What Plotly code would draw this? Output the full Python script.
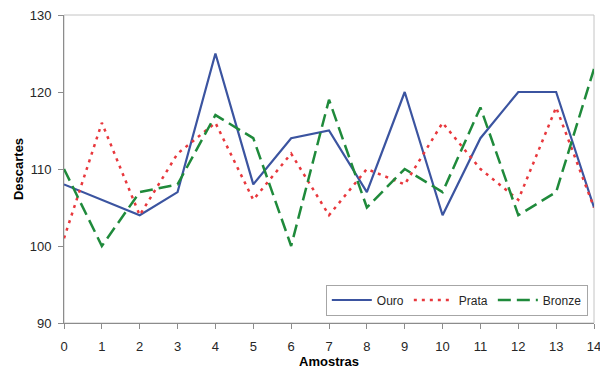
import plotly.graph_objects as go

# Sample index (Amostras) and discard counts per medal class
amostras = list(range(15))
ouro = [108, 106, 104, 107, 125, 108, 114, 115, 107, 120, 104, 114, 120, 120, 105]
prata = [101, 116, 104, 112, 116, 106, 112, 104, 110, 108, 116, 110, 106, 118, 105]
bronze = [110, 100, 107, 108, 117, 114, 100, 119, 105, 110, 107, 118, 104, 107, 123]

x_ticks = list(range(15))
y_ticks = [90, 100, 110, 120, 130]

FONT = "Liberation Sans, Arial, sans-serif"
AXIS_GRAY = "#8c8c8c"
TEXT = "#262626"

fig = go.Figure()
fig.add_trace(go.Scatter(x=amostras, y=ouro, name="Ouro", mode="lines",
                         line=dict(color="#3b54a0", width=2.2)))
fig.add_trace(go.Scatter(x=amostras, y=prata, name="Prata", mode="lines",
                         line=dict(color="#e8383d", width=2.5, dash="3px,5px")))
fig.add_trace(go.Scatter(x=amostras, y=bronze, name="Bronze", mode="lines",
                         line=dict(color="#1f8a3b", width=2.5, dash="13px,6px")))

# light frame around the plotting area
fig.add_shape(type="rect", xref="x domain", yref="y domain", x0=0, x1=1, y0=0, y1=1,
              line=dict(color="#c4c4c4", width=1), layer="below")

fig.update_layout(
    width=600, height=369,
    margin=dict(l=64, r=6, t=15, b=46, autoexpand=False),
    paper_bgcolor="white", plot_bgcolor="white",
    font=dict(family=FONT, size=13, color=TEXT),
    showlegend=True,
    legend=dict(orientation="h", x=0.494, y=0.125, xanchor="left", yanchor="top",
                bgcolor="white", bordercolor="#a6a6a6", borderwidth=1,
                font=dict(family=FONT, size=12, color=TEXT),
                itemwidth=40, tracegroupgap=0),
    xaxis=dict(range=[0, 14], tickvals=x_ticks, ticktext=[str(v) for v in x_ticks],
               automargin=False,
               showgrid=False, zeroline=False, showline=True, linecolor=AXIS_GRAY,
               linewidth=1, ticks="outside", ticklen=5, tickcolor=AXIS_GRAY,
               ticklabelstandoff=6, ticklabeloverflow="allow",
               tickfont=dict(family=FONT, size=13, color=TEXT),
               title=dict(text="<b>Amostras</b>", font=dict(family=FONT, size=13, color="#000"),
                          standoff=2)),
    yaxis=dict(range=[90, 130], tickvals=y_ticks, ticktext=[str(v) for v in y_ticks],
               automargin=False,
               showgrid=False, zeroline=False, showline=True, linecolor=AXIS_GRAY,
               linewidth=1, ticks="outside", ticklen=5, tickcolor=AXIS_GRAY,
               ticklabelstandoff=4,
               tickfont=dict(family=FONT, size=13, color=TEXT),
               title=dict(text="<b>Descartes</b>", font=dict(family=FONT, size=13, color="#000"),
                          standoff=3)),
)

fig.write_html("out.html")
